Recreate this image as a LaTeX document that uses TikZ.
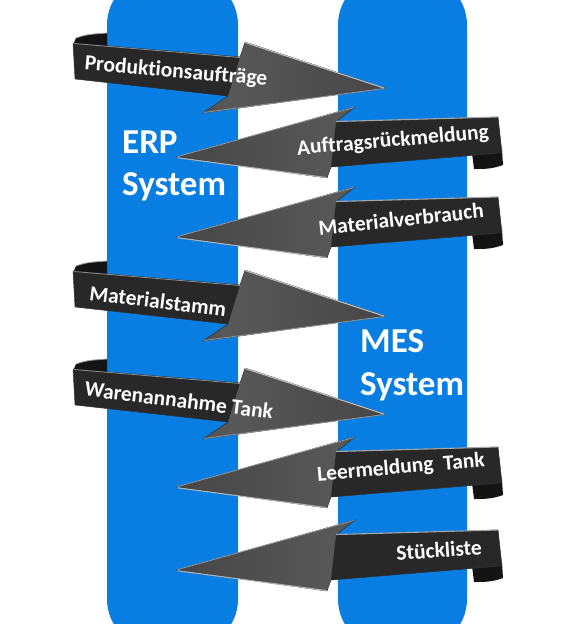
\documentclass[tikz,border=0pt]{standalone}
\usepackage{fontspec}
\setmainfont{Carlito}[Ligatures={NoCommon}]
\definecolor{barblue}{RGB}{8,126,226}
\definecolor{banddark}{RGB}{40,40,40}
\definecolor{headgray}{RGB}{88,88,88}
\definecolor{headdark}{RGB}{58,58,58}
\tikzset{
  bar/.style={fill=barblue, rounded corners=50pt},
  lbl/.style={text=white, font=\bfseries\fontsize{21.5}{21.5}\selectfont, inner sep=0pt},
  sys/.style={text=white, font=\bfseries\fontsize{35}{40}\selectfont, inner sep=0pt, anchor=base west},
  bandfill/.style={fill=banddark},
  foldfill/.style={fill=black!92},
  hilite/.style={draw=black!25, line width=1.1pt, line cap=round},
  lowedge/.style={draw=black!45, line width=1pt, line cap=round},
  outline/.style={draw=black!85, line width=0.4pt}
}
% right-pointing arrow: #1 name, #2 y offset, #3 x, #4 y, #5 angle, #6 text
\newcommand\rarr[6]{%
  \begin{scope}[shift={(0,#2)}]
    \fill[foldfill] (73,45) -- (76,38) to[out=20,in=185] (107,33) -- (107,46) -- cycle;
    \draw[hilite, draw=black!40, line width=0.8pt] (76,38) to[out=20,in=185] (107,33);
    \shade[outline, left color=headdark, right color=headgray!80!black, middle color=headgray]
      (73,43) -- (240,57) -- (245,42) -- (385,88) -- (203,113) -- (228,96) -- (75,79) -- cycle;
    \fill[bandfill] (73.4,43.4) -- (240,57) -- (228,96) -- (75.3,78.6) -- cycle;
    \draw[hilite] (245,42.5) -- (384,88);
    \draw[hilite, draw=black!45, line width=0.8pt] (74,43.5) -- (240,57.5);
    \draw[lowedge] (204,112.5) -- (384,88.5);
  \end{scope}
  \node[lbl, rotate=#5] (#1) at (#3,#4) {#6};
}
% left-pointing arrow
\newcommand\larr[6]{%
  \begin{scope}[shift={(0,#2)}]
    \fill[foldfill] (472,153) -- (474,169) to[out=0,in=200] (503,165) -- (502,150) -- cycle;
    \shade[outline, right color=headdark, left color=headgray!80!black, middle color=headgray]
      (177,157) -- (355,107) -- (336,122) -- (498,117) -- (502,153) -- (331,167) -- (327,178) -- cycle;
    \fill[bandfill] (336,122) -- (498,117.4) -- (501.6,152.6) -- (331,167) -- cycle;
    \draw[hilite, draw=black!40, line width=0.8pt] (178,156.5) -- (354,107.5);
    \draw[hilite, draw=black!35] (336.5,121.5) -- (497,117);
    \draw[hilite, draw=black!30] (178,157.8) -- (326,177.5);
  \end{scope}
  \node[lbl, rotate=#5] (#1) at (#3,#4) {#6};
}
\begin{document}
\begin{tikzpicture}[x=1pt,y=-1pt]
  \useasboundingbox (0,0) rectangle (568,624);
  \clip (0,0) rectangle (568,624);
  \fill[bar] (107,-25) rectangle (238,649);
  \fill[bar] (338,-25) rectangle (467,649);
  \node[sys] (erp1) at (122,153) {ERP};
  \node[sys] (erp2) at (122,195) {System};
  \node[sys] (mes1) at (360,352) {MES};
  \node[sys] (mes2) at (360,395) {System};
  \rarr{a1}{0}{176}{72}{-5}{Produktionsaufträge}
  \larr{a2}{0}{393}{141}{5}{Auftragsrückmeldung}
  \larr{a3}{80}{401}{219}{6}{Materialverbrauch}
  \rarr{a4}{228}{158}{301}{-7}{Materialstamm}
  \rarr{a5}{326}{179}{400}{-7}{Warenannahme Tank}
  \larr{a6}{330}{401}{468}{5}{Leermeldung\ \ Tank}
  \larr{a7}{413}{439}{550}{4}{Stückliste}
\end{tikzpicture}
\end{document}
